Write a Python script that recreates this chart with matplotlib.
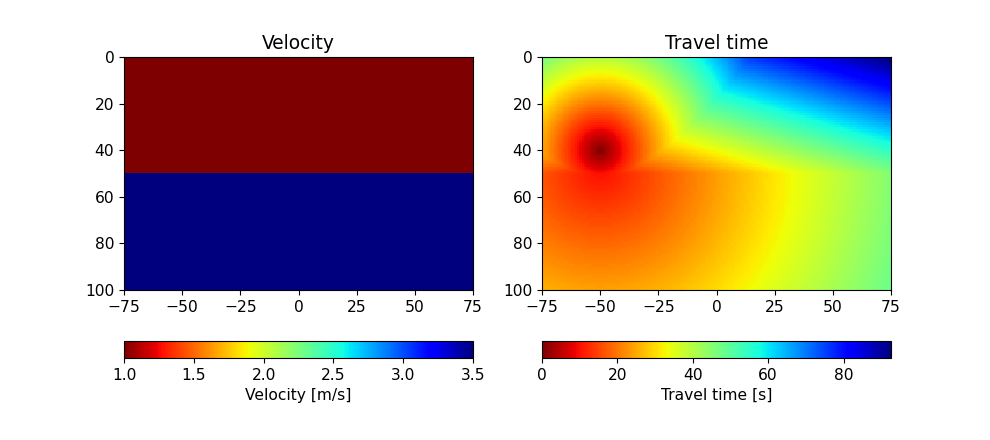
import numpy as np
import matplotlib
matplotlib.use("Agg")
import matplotlib.pyplot as plt

plt.rcParams["font.size"] = 11.2

# model parameters
x_range = [-75, 75]          # m
z_range = [0, 100]           # m (depth, downwards)
layer_velocity = [1.0, 3.5]  # m/s, top layer / bottom layer
interface_depth = 50         # m
source_x = -50
source_z = 40
grid_step = 1.0

# cell centres of the model grid
xs = np.arange(x_range[0] + grid_step / 2, x_range[1], grid_step)
zs = np.arange(z_range[0] + grid_step / 2, z_range[1], grid_step)
X, Z = np.meshgrid(xs, zs)

v1, v2 = layer_velocity
velocity = np.where(Z < interface_depth, v1, v2)

# first-arrival travel times for a source in the top layer (Fermat's principle)
hs = interface_depth - source_z
theta_c = np.arcsin(v1 / v2)
travel = np.zeros_like(X)

top = Z < interface_depth
dx = np.abs(X - source_x)
hr = interface_depth - Z
direct = np.hypot(X - source_x, Z - source_z) / v1
head = dx / v2 + (hs + hr) * np.cos(theta_c) / v1
head_ok = dx >= (hs + hr) * np.tan(theta_c)
t_top = np.where(head_ok, np.minimum(direct, head), direct)
travel[top] = t_top[top]

# bottom layer: minimise over crossing point on the interface
xi = np.arange(-200, 200, 0.1)
leg1 = np.hypot(xi - source_x, hs) / v1
for iz, z in enumerate(zs):
    if z < interface_depth:
        continue
    d = z - interface_depth
    leg2 = np.hypot(xs[:, None] - xi[None, :], d) / v2
    travel[iz, :] = (leg1[None, :] + leg2).min(axis=1)

fig = plt.figure(figsize=(9.9, 4.4), dpi=100)
ax1 = fig.add_axes([0.1253, 0.341, 0.3525, 0.5295])
ax2 = fig.add_axes([0.5475, 0.341, 0.3525, 0.5295])
cax1 = fig.add_axes([0.1253, 0.1864, 0.3525, 0.0386])
cax2 = fig.add_axes([0.5475, 0.1864, 0.3525, 0.0386])

extent = [x_range[0], x_range[1], z_range[1], z_range[0]]
im1 = ax1.imshow(velocity, cmap="jet_r", extent=extent, vmin=v1, vmax=v2,
                 interpolation="nearest")
ax1.set_title("Velocity")
im2 = ax2.imshow(travel, cmap="jet_r", extent=extent, vmin=0,
                 vmax=travel.max(), interpolation="nearest")
ax2.set_title("Travel time")

for ax in (ax1, ax2):
    ax.set_xticks([-75, -50, -25, 0, 25, 50, 75])
    ax.set_yticks([0, 20, 40, 60, 80, 100])

fig.colorbar(im1, cax=cax1, orientation="horizontal", label="Velocity [m/s]")
fig.colorbar(im2, cax=cax2, orientation="horizontal", label="Travel time [s]")

fig.savefig("out.png", dpi=100)
